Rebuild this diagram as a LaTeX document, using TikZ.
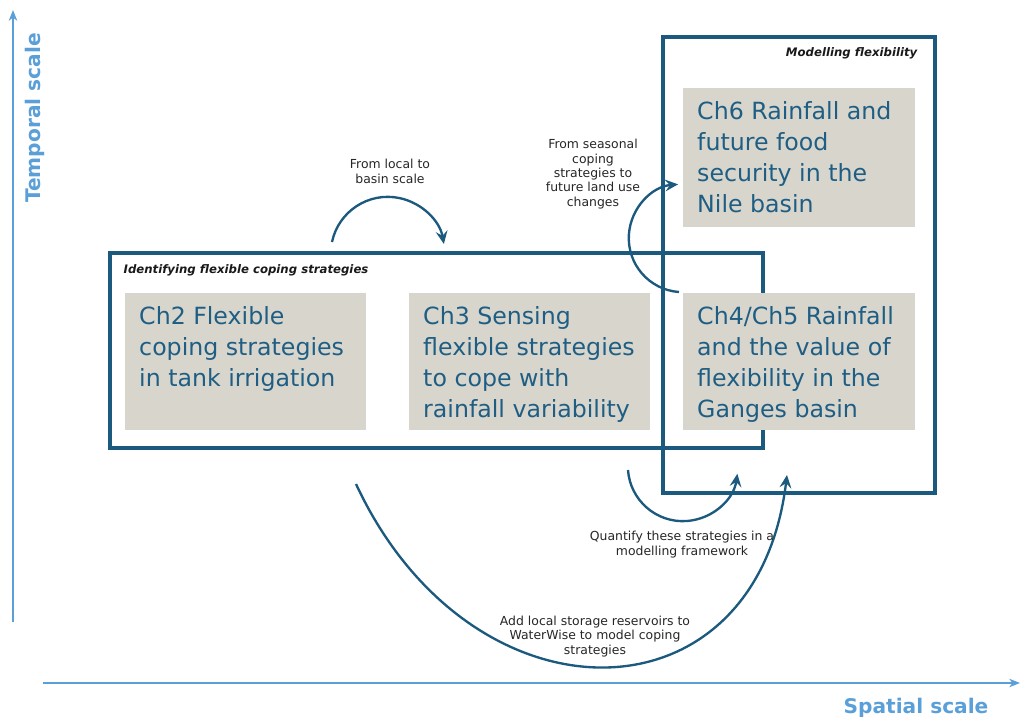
\documentclass[tikz,border=0pt]{standalone}
\usepackage{fontspec}
\setmainfont{DejaVu Sans}
\usepackage{tikz}
\usetikzlibrary{shapes,arrows,arrows.meta,positioning}
\definecolor{framblue}{HTML}{1B5A7E}
\definecolor{chblue}{HTML}{1F5E84}
\definecolor{chgrey}{HTML}{D8D5CC}
\definecolor{axisblue}{HTML}{5A9FD8}
\newcommand{\chtext}[3]{\begin{minipage}[t][#2][t]{#1}\raggedright\fontsize{20.2}{26.4}\selectfont #3\end{minipage}}
\newcommand{\smalltext}{\fontsize{10.6}{12.3}\selectfont}
\tikzstyle{frame} = [draw=framblue, line width=2.6pt, rectangle, inner sep=0pt]
\tikzstyle{chapter} = [fill=chgrey, text=chblue, rectangle, anchor=north west, inner xsep=0.42cm, inner ysep=0.39cm]
\tikzstyle{boxtitle} = [inner sep=0pt, font=\fontsize{10}{12}\selectfont\bfseries\itshape, text=black!90]
\tikzstyle{flow} = [draw=framblue, line width=2pt, -{Stealth[length=11pt, width=10pt, inset=4pt]}]
\tikzstyle{axis} = [draw=axisblue, line width=1.9pt, -{Stealth[length=9pt, width=7pt, inset=2.5pt]}]
\tikzstyle{axislabel} = [text=axisblue, font=\fontsize{17.2}{20}\selectfont\bfseries, inner sep=0pt]
\tikzstyle{note} = [align=center, font=\smalltext, text=black!85, inner sep=0pt]

\begin{document}
\begin{tikzpicture}[x=0.03cm, y=0.03cm]
	\useasboundingbox (0,0) rectangle (1027,716);
	% axes
	\coordinate (tbottom) at (13,94);
	\coordinate (ttop) at (13,706);
	\coordinate (sleft) at (43,33);
	\coordinate (sright) at (1020,33);
	\draw[axis] (tbottom) -- (ttop);
	\draw[axis] (sleft) -- (sright);
	\node[axislabel, rotate=90] (templabel) at (35,598) {Temporal scale};
	\node[axislabel, anchor=base] (spatlabel) at (916,3) {Spatial scale};
	% frames
	\node[frame, minimum width=653*0.03cm, minimum height=195*0.03cm] (identify) at (436.5,365.5) {};
	\node[frame, minimum width=272*0.03cm, minimum height=456*0.03cm] (modelling) at (799,451) {};
	\node[boxtitle, below right=0.40cm and 0.45cm of identify.north west] (identifytitle) {Identifying flexible coping strategies};
	\node[boxtitle, below left=0.36cm and 0.57cm of modelling.north east] (modeltitle) {Modelling flexibility};
	% chapters
	\node[chapter] (ch2) at (125,423) {\chtext{6.39cm}{3.33cm}{Ch2 Flexible\\coping strategies\\in tank irrigation}};
	\node[chapter] (ch3) at (409,423) {\chtext{6.39cm}{3.33cm}{Ch3 Sensing\\flexible strategies\\to cope with\\rainfall variability}};
	\node[chapter] (ch45) at (683,423) {\chtext{6.12cm}{3.33cm}{Ch4/Ch5 Rainfall\\and the value of\\flexibility in the\\Ganges basin}};
	\node[chapter] (ch6) at (683,628) {\chtext{6.12cm}{3.39cm}{Ch6 Rainfall and\\future food\\security in the\\Nile basin}};
	% flows between chapters
	\coordinate (localstart) at (332,474);
	\coordinate (seasonstart) at (679,424);
	\coordinate (quantstart) at (628,246);
	\coordinate (wwstart) at (356,232);
	\coordinate (wwend) at (787,241);
	\draw[flow] (localstart) arc[start angle=168, end angle=10, radius=57];
	\draw[flow] (seasonstart) arc[start angle=266, end angle=95, radius=54];
	\draw[flow] (quantstart) arc[start angle=184, end angle=352, radius=55];
	\draw[flow] (wwstart) .. controls (470,-13) and (756,-13) .. (wwend);
	\node[note] (localnote) at (390,544.5) {From local to\\basin scale};
	\node[note] (seasonnote) at (593,542) {From seasonal\\coping\\strategies to\\future land use\\changes};
	\node[note] (quantnote) at (682,171.5) {Quantify these strategies in a\\modelling framework};
	\node[note] (wwnote) at (595,79.5) {Add local storage reservoirs to\\WaterWise to model coping\\strategies};
\end{tikzpicture}
\end{document}
